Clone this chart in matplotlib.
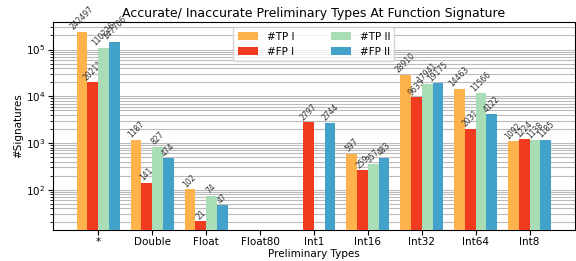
import numpy as np
import matplotlib.pyplot as plt

types = ['*', 'Double', 'Float', 'Float80', 'Int1', 'Int16', 'Int32', 'Int64', 'Int8']
tp1 = [242497, 1187, 102, 0, 0, 597, 28910, 14463, 1092]
fp1 = [20211, 141, 21, 0, 2797, 259, 9635, 2031, 1224]
tp2 = [110226, 827, 74, 0, 0, 357, 17941, 11566, 1138]
fp2 = [147706, 474, 47, 0, 2744, 483, 19175, 4122, 1185]

series = [('#TP I', tp1, '#feb24c'), ('#FP I', fp1, '#f03b20'),
          ('#TP II', tp2, '#a8ddb5'), ('#FP II', fp2, '#43a2ca')]

fig, ax = plt.subplots(figsize=(5.76, 2.61), dpi=100)
x = np.arange(len(types))
w = 0.2
for i, (name, vals, col) in enumerate(series):
    bars = ax.bar(x + (i - 1.5) * w, vals, w, label=name, color=col, zorder=3)
    labels = [str(v) if v > 0 else '' for v in vals]
    ax.bar_label(bars, labels=labels, rotation=45, fontsize=5.5, color='#333333', padding=0)

ax.set_yscale('log')
ax.set_ylim(14, 3.85e5)
ax.set_xticks(x)
ax.set_xticklabels(types, fontsize=7.5)
ax.tick_params(axis='both', labelsize=7.5, pad=2)
ax.grid(True, which='both', axis='y', color='#bbbbbb', linewidth=0.8, zorder=0)
ax.set_axisbelow(True)
ax.set_xlabel('Preliminary Types', fontsize=7.5, labelpad=1)
ax.set_ylabel('#Signatures', fontsize=7.5, labelpad=2)
ax.set_title('Accurate/ Inaccurate Preliminary Types At Function Signature', fontsize=9, pad=4)
ax.legend(loc='upper center', ncol=2, fontsize=7.5, bbox_to_anchor=(0.5, 1.0), columnspacing=3.5)

plt.subplots_adjust(left=0.092, right=0.998, top=0.915, bottom=0.12)
plt.savefig('out.png')
